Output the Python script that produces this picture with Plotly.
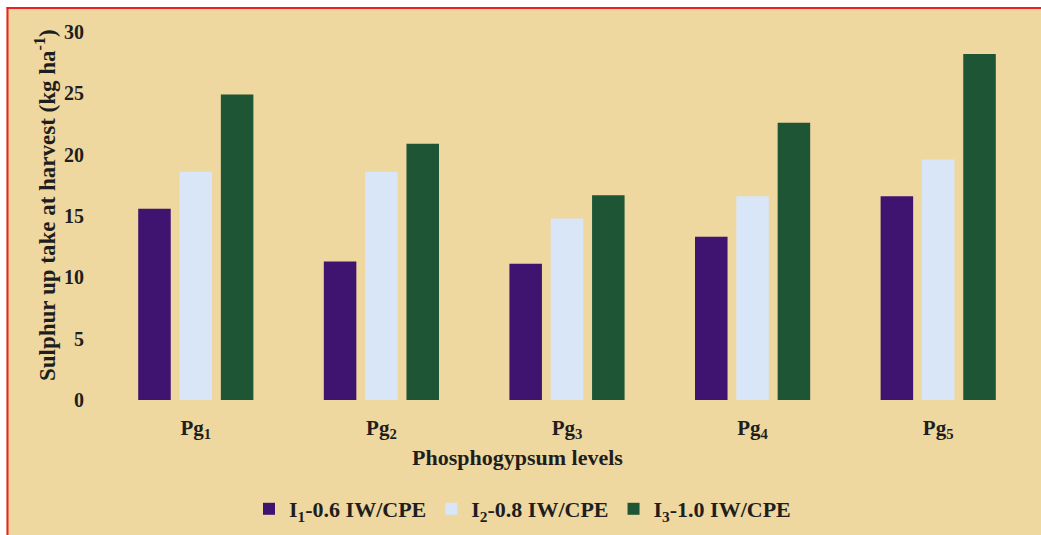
import plotly.graph_objects as go

categories = ["Pg<sub>1</sub>", "Pg<sub>2</sub>", "Pg<sub>3</sub>", "Pg<sub>4</sub>", "Pg<sub>5</sub>"]
series_names = ["I<sub>1</sub>-0.6 IW/CPE", "I<sub>2</sub>-0.8 IW/CPE", "I<sub>3</sub>-1.0 IW/CPE"]
i1_values = [15.6, 11.3, 11.1, 13.3, 16.6]
i2_values = [18.6, 18.6, 14.8, 16.6, 19.6]
i3_values = [24.9, 20.9, 16.7, 22.6, 28.2]
y_ticks = [0, 5, 10, 15, 20, 25, 30]

colors = ["#3f1470", "#d9e6f7", "#1d5535"]
FONT = "Liberation Serif"
TXT = "#1e1e1e"

W, H = 1041, 535
L, R, T, B = 103, 10, 32, 135
pw, ph = W - L - R, H - T - B

def px(x):
    return (x - L) / pw

def py(y):
    return (H - B - y) / ph

fig = go.Figure()
for name, vals, c in zip(series_names, [i1_values, i2_values, i3_values], colors):
    fig.add_trace(go.Bar(x=categories, y=vals, name=name, marker=dict(color=c, line=dict(width=0))))

shapes = [
    dict(type="rect", xref="paper", yref="paper", x0=px(0), x1=px(W), y0=py(0), y1=py(7),
         fillcolor="white", line=dict(width=0), layer="below"),
    dict(type="rect", xref="paper", yref="paper", x0=px(0), x1=px(6.5), y0=py(0), y1=py(H),
         fillcolor="white", line=dict(width=0), layer="below"),
    dict(type="line", xref="paper", yref="paper", x0=px(6.5), x1=px(W), y0=py(8), y1=py(8),
         line=dict(color="#ee2020", width=2), layer="below"),
    dict(type="line", xref="paper", yref="paper", x0=px(7.5), x1=px(7.5), y0=py(7), y1=py(H),
         line=dict(color="#ee2020", width=2), layer="below"),
]

fig.update_layout(
    width=W, height=H,
    margin=dict(l=L, r=R, t=T, b=B, autoexpand=False),
    paper_bgcolor="#efd7a0",
    plot_bgcolor="rgba(0,0,0,0)",
    barmode="group",
    bargap=0.332,
    bargroupgap=0.213,
    shapes=shapes,
    font=dict(family=FONT, color=TXT),
    xaxis=dict(showgrid=False, showline=False, zeroline=False, ticks="",
               tickfont=dict(family=FONT, size=21, color=TXT, weight="bold"),
               ticklabelstandoff=13),
    yaxis=dict(range=[0, 30], tickvals=y_ticks, showgrid=False, showline=False, zeroline=False,
               ticks="", tickfont=dict(family=FONT, size=20, color=TXT, weight="bold"),
               ticklabelstandoff=18),
    legend=dict(orientation="h", x=px(249), xanchor="left", y=py(509), yanchor="middle",
                bgcolor="rgba(0,0,0,0)", font=dict(family=FONT, size=22, color=TXT, weight="bold"),
                itemwidth=30, tracegroupgap=0, itemsizing="constant"),
    annotations=[
        dict(text="<b>Phosphogypsum levels</b>", xref="paper", yref="paper", x=px(517), y=py(457),
             showarrow=False, font=dict(family=FONT, size=22, color=TXT), xanchor="center", yanchor="middle"),
        dict(text="<b>Sulphur up take at harvest (kg ha<sup>-1</sup>)</b>", xref="paper", yref="paper",
             x=px(45), y=py(205), textangle=-90, showarrow=False,
             font=dict(family=FONT, size=23, color=TXT), xanchor="center", yanchor="middle"),
    ],
)

fig.write_html("out.html", config={"displayModeBar": False},
               post_script="document.body.style.margin='0';document.body.style.overflow='hidden';")
